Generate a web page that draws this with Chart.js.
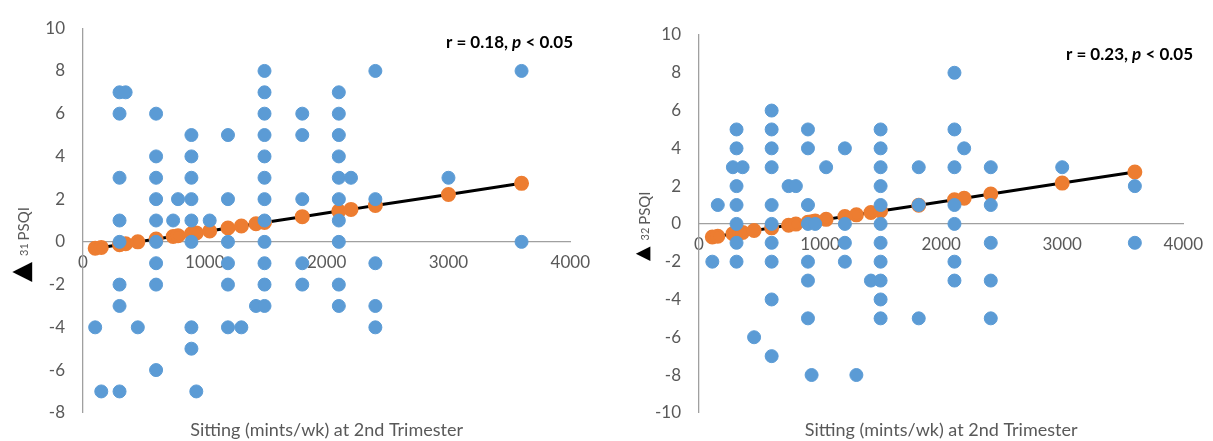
<!DOCTYPE html>
<html>
<head>
<meta charset="utf-8">
<script src="https://cdn.jsdelivr.net/npm/chart.js@4"></script>
<style>
  body { margin: 0; background: #fff; }
  canvas { position: absolute; top: 0; }
</style>
</head>
<body>
<canvas id="t1" width="600" height="441" style="left:0"></canvas>
<canvas id="t2" width="593" height="441" style="left:620px"></canvas>
<script>
// 1st trimester change vs sitting
const t1X = [100, 150,
  300, 300, 300, 300, 300, 300, 300, 300, 350, 450,
  600, 600, 600, 600, 600, 600, 600, 600, 600, 740, 780,
  890, 890, 890, 890, 890, 890, 890, 890, 930, 1040,
  1190, 1190, 1190, 1190, 1190, 1190, 1300, 1420,
  1490, 1490, 1490, 1490, 1490, 1490, 1490, 1490, 1490, 1490, 1490, 1490,
  1800, 1800, 1800, 1800, 1800,
  2100, 2100, 2100, 2100, 2100, 2100, 2100, 2100, 2100, 2100, 2200,
  2400, 2400, 2400, 2400, 2400, 3000, 3600, 3600];
const t1Y = [-4, -7,
  7, 6, 3, 1, 0, -2, -3, -7, 7, -4,
  6, 4, 3, 2, 1, 0, -1, -2, -6, 1, 2,
  5, 4, 3, 2, 1, 0, -4, -5, -7, 1,
  5, 2, 0, -1, -2, -4, -4, -3,
  8, 7, 6, 5, 4, 3, 2, 1, 0, -1, -2, -3,
  6, 5, 2, -1, -2,
  7, 6, 5, 4, 3, 2, 1, 0, -2, -3, 3,
  8, 2, -1, -3, -4, 3, 8, 0];
const t1FitX = [100, 150, 300, 350, 450, 600, 740, 780, 890, 930, 1040, 1190, 1300, 1420, 1490, 1800, 2100, 2200, 2400, 3000, 3600];
const t1FitY = [-0.30, -0.26, -0.13, -0.09, 0.00, 0.13, 0.25, 0.29, 0.38, 0.42, 0.51, 0.65, 0.74, 0.85, 0.91, 1.18, 1.44, 1.52, 1.70, 2.22, 2.74];

// 2nd trimester change vs sitting
const t2X = [110, 155, 280,
  310, 310, 310, 310, 310, 310, 310, 360, 455,
  600, 600, 600, 600, 600, 600, 600, 600, 600, 600, 740, 800,
  900, 900, 900, 900, 900, 900, 900, 930, 960, 1050,
  1205, 1205, 1205, 1205, 1300, 1420,
  1500, 1500, 1500, 1500, 1500, 1500, 1500, 1500, 1500, 1500, 1500,
  1815, 1815, 1815,
  2110, 2110, 2110, 2110, 2110, 2110, 2110, 2190,
  2410, 2410, 2410, 2410, 2410, 3000, 3600, 3600];
const t2Y = [-2, 1, 3,
  5, 4, 2, 1, 0, -1, -2, 3, -6,
  6, 5, 4, 3, 1, 0, -1, -2, -4, -7, 2, 2,
  5, 4, 1, 0, -2, -3, -5, -8, 0, 3,
  4, 0, -1, -2, -8, -3,
  5, 4, 3, 2, 1, 0, -1, -2, -3, -4, -5,
  3, 1, -5,
  8, 5, 3, 1, 0, -2, -3, 4,
  3, 1, -1, -3, -5, 3, 2, -1];
const t2FitX = [110, 155, 280, 310, 360, 455, 600, 740, 800, 900, 930, 960, 1050, 1205, 1300, 1420, 1500, 1815, 2110, 2190, 2410, 3000, 3600];
const t2FitY = [-0.69, -0.65, -0.52, -0.49, -0.45, -0.35, -0.21, -0.07, -0.01, 0.09, 0.12, 0.15, 0.24, 0.39, 0.48, 0.60, 0.68, 0.99, 1.28, 1.36, 1.58, 2.16, 2.75];

const xTicks = [0, 1000, 2000, 3000, 4000];
const xTitle = 'Sitting (mints/wk) at 2nd Trimester';

const FONT = 'Lato';
const GREY = '#595959';

function pts(xs, ys) {
  return xs.map((x, i) => ({ x: x, y: ys[i] }));
}

// axis titles + r/p note, drawn on top
const labels = {
  id: 'labels',
  afterDraw(chart, args, o) {
    const ctx = chart.ctx;
    const a = chart.chartArea;
    ctx.save();
    // x title
    ctx.fillStyle = GREY;
    ctx.font = '18px ' + FONT;
    ctx.textAlign = 'center';
    ctx.textBaseline = 'middle';
    ctx.fillText(xTitle, (a.left + a.right) / 2, 430);

    // y title, rotated
    ctx.save();
    ctx.translate(o.yTitleX, o.yTitleY);
    ctx.rotate(-Math.PI / 2);
    ctx.fillStyle = '#000';
    ctx.textAlign = 'left';
    ctx.font = o.triSize + 'px "DejaVu Sans"';
    ctx.fillText('\u25B2', 0, 0);
    let w = ctx.measureText('\u25B2').width + 6;
    ctx.fillStyle = GREY;
    ctx.font = '11px ' + FONT;
    ctx.fillText(o.sub, w, 2);
    w += ctx.measureText(o.sub + ' ').width;
    ctx.font = '15px ' + FONT;
    ctx.fillText('PSQI', w, 2);
    ctx.restore();

    // r, p note (right aligned)
    const parts = [['bold', o.r + ', '], ['italic bold', 'p'], ['bold', ' < 0.05']];
    let total = 0;
    parts.forEach(p => { ctx.font = p[0] + ' 17px ' + FONT; total += ctx.measureText(p[1]).width; });
    let x = o.noteRight - total;
    ctx.fillStyle = '#000';
    ctx.textAlign = 'left';
    parts.forEach(p => {
      ctx.font = p[0] + ' 17px ' + FONT;
      ctx.fillText(p[1], x, o.noteY);
      x += ctx.measureText(p[1]).width;
    });
    ctx.restore();
  }
};

function makeChart(id, blue, fit, yMin, pad, yWidth, note) {
  return new Chart(document.getElementById(id), {
    type: 'scatter',
    data: {
      datasets: [{
        data: blue,
        backgroundColor: '#5B9BD5',
        borderColor: '#5B9BD5',
        pointRadius: 6.5,
        pointHoverRadius: 6.5
      }, {
        data: fit,
        showLine: true,
        borderColor: '#000',
        borderWidth: 3,
        pointBackgroundColor: '#ED7D31',
        pointBorderColor: '#ED7D31',
        pointRadius: 6,
        pointHoverRadius: 6
      }]
    },
    options: {
      responsive: false,
      animation: false,
      layout: { padding: pad },
      plugins: {
        legend: { display: false },
        tooltip: { enabled: false },
        labels: note
      },
      scales: {
        x: {
          type: 'linear',
          min: 0,
          max: 4000,
          position: { y: 0 },
          afterBuildTicks: s => { s.ticks = xTicks.map(v => ({ value: v })); },
          ticks: { color: GREY, font: { family: FONT, size: 17 }, padding: 10, callback: v => String(v) },
          grid: { display: false, drawTicks: false },
          border: { display: true, color: '#a0a0a0', width: 1.3 }
        },
        y: {
          min: yMin,
          max: 10,
          afterFit: s => { s.width = yWidth; },
          ticks: { stepSize: 2, color: GREY, font: { family: FONT, size: 17 }, padding: 18 },
          grid: { display: false, drawTicks: false },
          border: { display: true, color: '#a0a0a0', width: 1.3 }
        }
      }
    },
    plugins: [labels]
  });
}

makeChart('t1', pts(t1X, t1Y), pts(t1FitX, t1FitY), -8,
  { left: 0, top: 22, right: 27, bottom: 26 }, 83,
  { r: 'r = 0.18', noteRight: 573, noteY: 43, yTitleX: 22, yTitleY: 282, sub: '31', triSize: 26 });

makeChart('t2', pts(t2X, t2Y), pts(t2FitX, t2FitY), -10,
  { left: 0, top: 35, right: 23, bottom: 26 }, 79,
  { r: 'r = 0.23', noteRight: 573, noteY: 55, yTitleX: 23, yTitleY: 261, sub: '32', triSize: 19 });
</script>
</body>
</html>
